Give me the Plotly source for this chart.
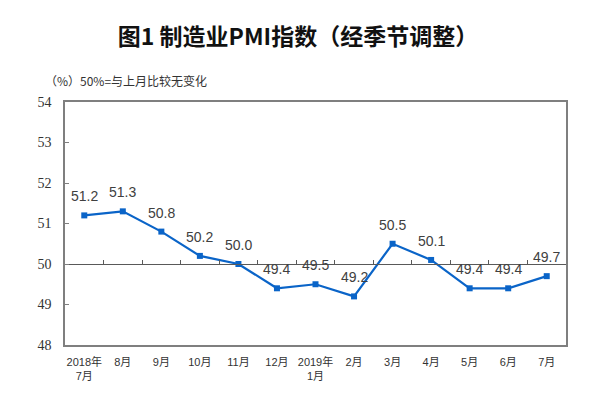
import plotly.graph_objects as go

categories = ["2018年<br>7月", "8月", "9月", "10月", "11月", "12月", "2019年<br>1月",
              "2月", "3月", "4月", "5月", "6月", "7月"]
pmi = [51.2, 51.3, 50.8, 50.2, 50.0, 49.4, 49.5, 49.2, 50.5, 50.1, 49.4, 49.4, 49.7]
y_ticks = [48, 49, 50, 51, 52, 53, 54]
title_text = "图1 制造业PMI指数（经季节调整）"
subtitle_text = "（%）50%=与上月比较无变化"

# the page body adds an 8px offset; figure coordinates below are compensated
OFF = 8
W, H = 611 - OFF, 396 - OFF
L, T = 65 - OFF, 102 - OFF
PR, PB = 566 - OFF, 345 - OFF
R, B = W - PR, H - PB
PW, PH = PR - L, PB - T

fig = go.Figure()
fig.add_trace(go.Scatter(
    x=categories, y=pmi, mode="lines+markers",
    line=dict(color="#0A64C8", width=2.2),
    marker=dict(symbol="square", size=6, color="#0A64C8"),
    hoverinfo="skip", showlegend=False,
))

annotations = []
for c, v in zip(categories, pmi):
    annotations.append(dict(
        x=c, y=v, xref="x", yref="y", text=f"{v:.1f}", showarrow=False,
        yshift=19, font=dict(family="Liberation Sans, Arial", size=14, color="#404040"),
    ))
annotations.append(dict(
    x=(43 - OFF - L) / PW, y=(PB - (80 - OFF)) / PH, xref="paper", yref="paper",
    xanchor="left", yanchor="middle", text=subtitle_text, showarrow=False,
    font=dict(family="Noto Sans CJK SC", size=12, color="#333333"),
))

n = len(categories)
fig.update_layout(
    template="none",
    width=W, height=H,
    margin=dict(l=L, r=R, t=T, b=B, autoexpand=False),
    paper_bgcolor="white", plot_bgcolor="white",
    title=dict(text="<b>" + title_text + "</b>", x=(298 - OFF) / W, y=1 - (37 - OFF) / H,
               xanchor="center", yanchor="middle", automargin=False,
               font=dict(family="Noto Sans CJK SC", size=23, color="#111111")),
    xaxis=dict(
        type="category", range=[-0.5, n - 0.5], showgrid=False, automargin=False,
        showline=True, linecolor="#7F7F7F", linewidth=1.5, mirror=True,
        ticks="", tickfont=dict(family="Liberation Sans, Noto Sans CJK SC", size=11, color="#333333"),
        ticklabelstandoff=6, zeroline=False,
    ),
    xaxis2=dict(
        overlaying="x", anchor="free", position=(50 - 48) / (54 - 48), side="top",
        range=[-0.5, n - 0.5], showgrid=False, zeroline=False, automargin=False,
        showline=True, linecolor="#595959", linewidth=1.2,
        tickmode="array", tickvals=[i + 0.5 for i in range(n - 1)],
        ticks="outside", ticklen=4, tickcolor="#595959", showticklabels=False,
    ),
    yaxis=dict(
        range=[48, 54], tickvals=y_ticks, showgrid=False, zeroline=False, automargin=False,
        showline=True, linecolor="#7F7F7F", linewidth=1.5, mirror=True,
        ticks="inside", ticklen=4, tickcolor="#7F7F7F",
        tickfont=dict(family="Liberation Serif, Times New Roman", size=14, color="#333333"),
        ticklabelstandoff=9,
    ),
    annotations=annotations,
)
fig.add_trace(go.Scatter(x=[], y=[], xaxis="x2", yaxis="y", showlegend=False, hoverinfo="skip"))

fig.write_html("out.html")
